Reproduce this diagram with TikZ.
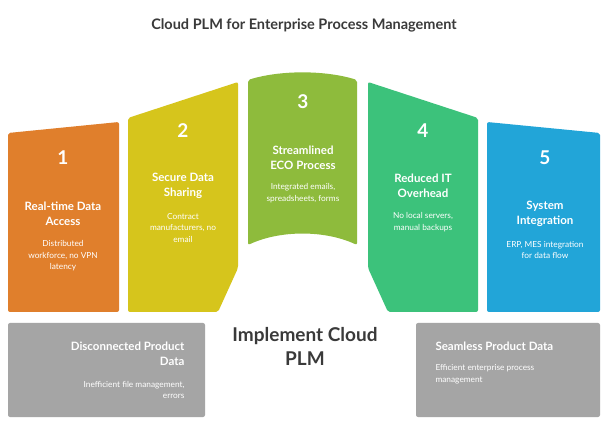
\documentclass[tikz,border=0pt]{standalone}
\usepackage{fontspec}
\setmainfont{Lato}
\begin{document}
\begin{tikzpicture}[x=1pt,y=-1pt,
  num/.style={text=white,font=\bfseries\fontsize{19}{22}\selectfont},
  ttl/.style={text=white,font=\bfseries\fontsize{11.5}{14.5}\selectfont,align=center},
  dsc/.style={text=white,font=\fontsize{8.3}{11.5}\selectfont,align=center}]
\definecolor{c1}{HTML}{E07F2C}
\definecolor{c2}{HTML}{D6C51C}
\definecolor{c3}{HTML}{8EBB3C}
\definecolor{c4}{HTML}{3CC27B}
\definecolor{c5}{HTML}{22A5D8}
\definecolor{gb}{HTML}{A5A5A5}
\definecolor{tt}{HTML}{3A3A3A}
\useasboundingbox (0,0) rectangle (608,430);
\fill[white] (0,0) rectangle (608,430);
\node[font=\bfseries\fontsize{14.5}{17}\selectfont,text=tt] (title) at (304,25) {Cloud PLM for Enterprise Process Management};
% panels
\fill[c1,rounded corners=2pt] (8,133) -- (119,122) -- (119,312) -- (8,312) -- cycle;
\fill[c2,rounded corners=2pt] (128,118) -- (238,82) -- (238,268) -- (218,312) -- (128,312) -- cycle;
\fill[c3,rounded corners=2pt] (248,80) .. controls (280,70) and (325,70) .. (357,80) -- (357,245) .. controls (325,230) and (280,230) .. (248,245) -- cycle;
\fill[c4,rounded corners=2pt] (368,82) -- (478,118) -- (478,312) -- (388,312) -- (368,268) -- cycle;
\fill[c5,rounded corners=2pt] (487,122) -- (600,133) -- (600,312) -- (487,312) -- cycle;
\fill[gb,rounded corners=2pt] (8,323) rectangle (205,417);
\fill[gb,rounded corners=2pt] (416,323) rectangle (600,417);
% texts
\node[num] (n1) at (63,158) {1};
\node[ttl] (t1) at (63,214) {Real-time Data\\Access};
\node[dsc] (d1) at (63,256) {Distributed\\workforce, no VPN\\latency};
\node[num] (n2) at (183,131) {2};
\node[ttl] (t2) at (183,186) {Secure Data\\Sharing};
\node[dsc] (d2) at (183,228) {Contract\\manufacturers, no\\email};
\node[num] (n3) at (303,102) {3};
\node[ttl] (t3) at (303,158) {Streamlined\\ECO Process};
\node[dsc] (d3) at (303,193) {Integrated emails,\\spreadsheets, forms};
\node[num] (n4) at (423,131) {4};
\node[ttl] (t4) at (423,186) {Reduced IT\\Overhead};
\node[dsc] (d4) at (423,222) {No local servers,\\manual backups};
\node[num] (n5) at (545,158) {5};
\node[ttl] (t5) at (545,214) {System\\Integration};
\node[dsc] (d5) at (545,250) {ERP, MES integration\\for data flow};
\node[ttl,align=right,anchor=east] (g1t) at (188,354) {Disconnected Product\\Data};
\node[dsc,align=right,anchor=east] (g1d) at (188,390) {Inefficient file management,\\errors};
\node[ttl,align=left,anchor=west] (g2t) at (432,346) {Seamless Product Data};
\node[dsc,align=left,anchor=west] (g2d) at (432,374) {Efficient enterprise process\\management};
\node[font=\bfseries\fontsize{19}{24}\selectfont,text=tt,align=center] (c) at (305,346) {Implement Cloud\\PLM};
\end{tikzpicture}
\end{document}
